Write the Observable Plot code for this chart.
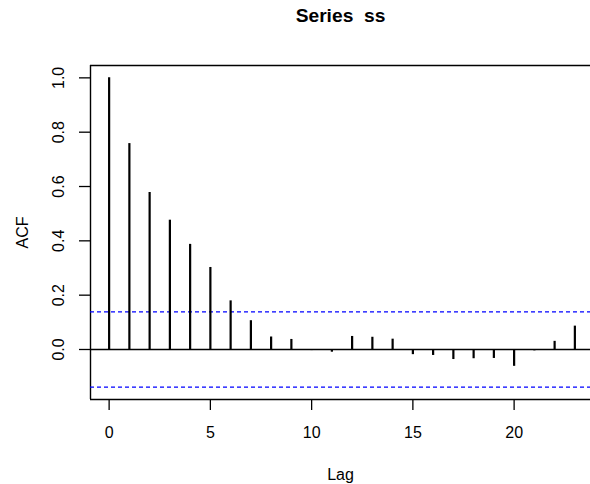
<!DOCTYPE html>
<html>
<head>
<meta charset="utf-8">
<script src="https://cdn.jsdelivr.net/npm/d3@7"></script>
<script src="https://cdn.jsdelivr.net/npm/@observablehq/plot@0.6"></script>
<style>
  html, body { margin: 0; padding: 0; background: #fff; }
  svg text { white-space: pre; }
</style>
</head>
<body>
<div id="chart"></div>
<script>
const lags = [0,1,2,3,4,5,6,7,8,9,10,11,12,13,14,15,16,17,18,19,20,21,22,23];
const acfValues = [1.000, 0.758, 0.578, 0.476, 0.387, 0.302, 0.179, 0.106, 0.046, 0.037, -0.004, -0.010, 0.048, 0.045, 0.038, -0.019, -0.022, -0.037, -0.034, -0.033, -0.062, -0.005, 0.030, 0.086];
const confLimit = 0.1386;
const xTicks = [0, 5, 10, 15, 20];
const yTicks = [0.0, 0.2, 0.4, 0.6, 0.8, 1.0];
const title = "Series  ss";
const xLabel = "Lag";
const yLabel = "ACF";

const data = lags.map((lag, i) => ({lag, acf: acfValues[i]}));
const xDomain = [-0.92, 23.92];
const yDomain = [-0.1841, 1.0455];
const font = "'Liberation Sans', Arial, Helvetica, sans-serif";

const chart = Plot.plot({
  width: 590,
  height: 484,
  marginLeft: 90,
  marginRight: 0,
  marginTop: 65,
  marginBottom: 85,
  style: {fontFamily: font, fontSize: "16px", color: "#000", background: "#fff"},
  x: {domain: xDomain, range: [90, 593]},
  y: {domain: yDomain, range: [399, 65]},
  marks: [
    // box
    Plot.ruleY([yDomain[0], yDomain[1]], {stroke: "#000", strokeWidth: 1.4}),
    Plot.ruleX([xDomain[0]], {stroke: "#000", strokeWidth: 1.4}),
    // confidence limits
    Plot.ruleY([confLimit, -confLimit], {stroke: "#0000FF", strokeWidth: 1.2, strokeDasharray: "4,3"}),
    // zero line
    Plot.ruleY([0], {stroke: "#000", strokeWidth: 1.4}),
    // spikes
    Plot.ruleX(data, {x: "lag", y1: 0, y2: "acf", stroke: "#000", strokeWidth: 2.2}),
    // axes ticks
    Plot.axisX({ticks: xTicks, tickSize: 11, tickFormat: () => "", label: null, strokeWidth: 1.3}),
    Plot.axisY({ticks: yTicks, tickSize: 11, tickFormat: () => "", label: null, strokeWidth: 1.3}),
    // tick labels
    Plot.text(xTicks, {x: d => d, frameAnchor: "bottom", dy: 33.5, text: d => String(d), fontSize: 16, lineAnchor: "middle", fill: "#000"}),
    Plot.text(yTicks, {y: d => d, frameAnchor: "left", dx: -32, rotate: -90, text: d => d.toFixed(1), fontSize: 16, textAnchor: "middle", lineAnchor: "middle", fill: "#000"}),
    // titles
    Plot.text([title], {frameAnchor: "top", dy: -49.5, text: d => d, fontSize: 19.2, fontWeight: "bold", lineAnchor: "middle", fill: "#000"}),
    Plot.text([xLabel], {frameAnchor: "bottom", dy: 75, text: d => d, fontSize: 16, lineAnchor: "middle", fill: "#000"}),
    Plot.text([yLabel], {frameAnchor: "left", dx: -68, rotate: -90, text: d => d, fontSize: 16, textAnchor: "middle", lineAnchor: "middle", fill: "#000"})
  ]
});
document.getElementById("chart").appendChild(chart);
</script>
</body>
</html>
